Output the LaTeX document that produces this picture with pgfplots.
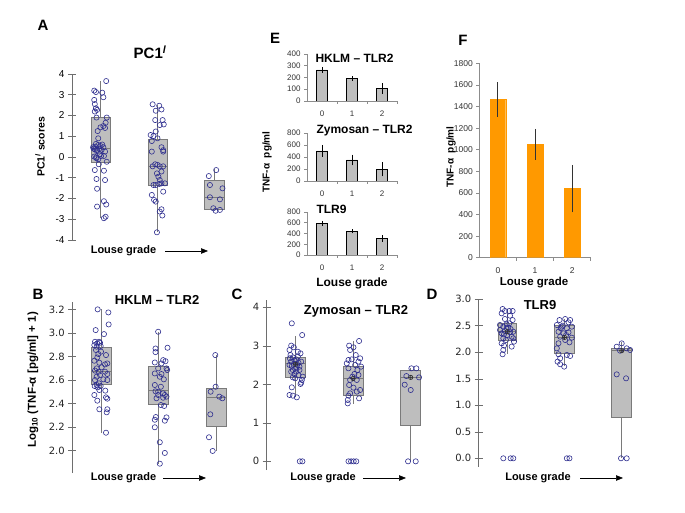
\documentclass[border=0pt]{standalone}
\usepackage{fontspec}
\setmainfont{Liberation Sans}
\newfontfamily\dejavu{DejaVu Sans}
\usepackage{pgfplots}
\pgfplotsset{compat=1.18}
\usepgfplotslibrary{statistics}
\usetikzlibrary{arrows.meta}

\definecolor{ptblue}{HTML}{2E2E8F}
\definecolor{boxgray}{HTML}{BEBEBE}
\definecolor{boxedge}{HTML}{7A7A7A}
\definecolor{axgray}{HTML}{6E6E6E}
\definecolor{xlgray}{HTML}{8C8C8C}
\definecolor{orng}{HTML}{FF9900}

\pgfplotsset{
  /pgf/number format/assume math mode=true,
  /pgf/number format/1000 sep={},
  boxpanel/.style={
    scale only axis, anchor=south west,
    axis x line=none, axis y line=left,
    axis line style={-, draw=axgray, line width=0.6pt},
    xmin=-0.5, xmax=2.5, enlargelimits=false, clip=false,
    tick align=center, major tick length=8pt,
    ytick style={draw=axgray, line width=0.6pt},
    yticklabel style={font=\dejavu\fontsize{10}{12}\selectfont, text=black!85},
    boxplot/draw direction=y,
  },
  bx/.style={fill=boxgray, draw=boxedge, line width=0.6pt, solid},
  pts/.style={only marks, mark=o, mark size=2.6pt,
    mark options={draw=ptblue, line width=0.6pt}},
  meanmk/.style={only marks, mark=oplus, mark size=2.2pt,
    mark options={draw=black!80, line width=0.6pt}},
  barpanel/.style={
    scale only axis, anchor=south west,
    axis x line=bottom, axis y line=left,
    axis line style={-, draw=xlgray, line width=0.6pt},
    xmin=-0.5, xmax=2.5, ymin=0, enlargelimits=false,
    xtick={0,1,2}, minor xtick={0.5,1.5,2.5},
    major x tick style={draw=none},
    minor x tick style={draw=xlgray, line width=0.6pt},
    ytick style={draw=xlgray, line width=0.6pt},
    tick align=outside, major tick length=3pt, minor tick length=3pt,
    ticklabel style={font=\fontsize{8}{9}\selectfont, text=black!80},
    xticklabel style={yshift=-3pt},
    ybar, bar width=11pt,
    error bars/error bar style={black, line width=0.7pt},
  },
}

\newcommand\louse[4]{%
  \node[font=\bfseries\fontsize{#4}{12}\selectfont] at (#1pt,#3pt) {Louse grade};
  \draw[line width=0.6pt,-{Triangle[length=7pt,width=5.5pt]}] (#2pt,#3pt) -- ++(43pt,0);}

\begin{document}
\begin{tikzpicture}
\useasboundingbox (0,0) rectangle (685pt,513pt);

% ---------- A ----------
\node[font=\bfseries\fontsize{15}{17}\selectfont] at (43pt,488pt) {A};
\node[font=\bfseries\fontsize{15}{17}\selectfont] at (150pt,461pt) {PC1\textsuperscript{\itshape l}};
\node[font=\bfseries\fontsize{10.5}{12}\selectfont, rotate=90] at (40pt,366pt) {PC1\textsuperscript{\itshape l} scores};
\louse{123.5}{165}{262}{11}
\begin{axis}[boxpanel, at={(72pt,273pt)}, width=171pt, height=166pt,
  ymin=-4, ymax=4, ytick={-4,...,4}, yticklabels={-4,-3,-2,-1,0,1,2,3,4},
  yticklabel style={font=\fontsize{10}{12}\selectfont, text=black}]
\addplot[bx, boxplot prepared={lower whisker=-2.95, lower quartile=-0.25, median=0.4,
  upper quartile=1.9, upper whisker=3.65, draw position=0, box extend=0.34, whisker extend=0}] coordinates {};
\addplot[bx, boxplot prepared={lower whisker=-3.6, lower quartile=-1.35, median=-0.45,
  upper quartile=0.85, upper whisker=2.5, draw position=1, box extend=0.34, whisker extend=0}] coordinates {};
\addplot[bx, boxplot prepared={lower whisker=-2.5, lower quartile=-2.5, median=-1.94,
  upper quartile=-1.11, upper whisker=-0.6, draw position=2, box extend=0.36, whisker extend=0}] coordinates {};
\addplot[pts] coordinates {
 (0.10,3.66) (-0.11,3.20) (-0.08,3.13) (0.03,3.10) (0.05,2.88) (-0.11,2.75) (-0.10,2.55)
 (-0.08,2.35) (-0.06,2.27) (-0.10,2.19) (-0.07,1.90) (0.11,1.90) (0.09,1.65) (0.05,1.49)
 (0.00,1.43) (0.08,1.40) (-0.05,1.25) (-0.04,0.90) (-0.08,0.63) (-0.04,0.58) (0.00,0.53)
 (-0.13,0.47) (0.05,0.47) (-0.10,0.37) (-0.07,0.34) (-0.02,0.40) (0.02,0.34) (0.08,0.26)
 (-0.01,0.14) (-0.08,-0.02) (-0.07,-0.06) (-0.04,-0.11) (0.06,0.05) (0.11,-0.23)
 (-0.12,0.40) (-0.09,0.50) (0.03,0.60) (-0.11,0.02) (-0.06,0.28) (0.01,0.05) (-0.03,-0.35)
 (-0.10,-0.63) (0.06,-0.66) (-0.07,-1.06) (0.08,-1.11) (-0.06,-1.53) (-0.06,-2.39)
 (0.06,-2.13) (0.10,-2.29) (0.06,-2.95) (0.09,-2.88)
 (0.915,2.54) (1.03,2.47) (0.97,2.23) (1.07,2.29) (0.96,1.78) (1.09,1.78) (1.11,1.57)
 (1.04,1.54) (0.97,1.23) (0.88,1.06) (0.93,1.01) (1.00,0.90) (0.90,0.77) (0.90,0.26)
 (1.10,0.33) (1.10,0.26) (1.07,0.47) (0.96,-0.35) (1.00,-0.38) (1.04,-0.45) (0.915,-0.45)
 (1.10,-0.45) (1.07,-0.70) (0.99,-0.79) (1.015,-0.95) (1.04,-1.11) (0.93,-1.35)
 (0.97,-1.35) (1.03,-1.30) (1.07,-1.27) (1.13,-1.27) (1.10,-1.67) (0.90,-1.83)
 (0.94,-2.07) (0.97,-2.15) (1.07,-2.52) (1.04,-2.63) (1.085,-2.82) (0.99,-3.63)
 (2.03,-0.63) (1.90,-0.92) (1.92,-1.35) (2.14,-1.51) (1.92,-1.94) (2.095,-2.04)
 (1.98,-2.47) (2.02,-2.59) (2.095,-2.55)};
\end{axis}

% ---------- B ----------
\node[font=\bfseries\fontsize{15}{17}\selectfont] at (38pt,219pt) {B};
\node[font=\bfseries\fontsize{13}{15}\selectfont] at (157pt,213pt) {HKLM -- TLR2};
\node[font=\bfseries\fontsize{11.5}{13}\selectfont, rotate=90] at (33pt,133pt) {Log\textsubscript{10} (TNF-α [pg/ml] + 1)};
\louse{123.5}{163}{35}{11}
\begin{axis}[boxpanel, at={(72.25pt,39.9pt)}, width=172.5pt, height=170.8pt,
  ymin=1.81, ymax=3.26, ytick={2.0,2.2,...,3.21},
  yticklabels={2.0,2.2,2.4,2.6,2.8,3.0,3.2}]
\addplot[bx, boxplot prepared={lower whisker=2.15, lower quartile=2.56, median=2.67,
  upper quartile=2.88, upper whisker=3.2, draw position=0, box extend=0.35, whisker extend=0}] coordinates {};
\addplot[bx, boxplot prepared={lower whisker=1.89, lower quartile=2.39, median=2.51,
  upper quartile=2.72, upper whisker=3.01, draw position=1, box extend=0.35, whisker extend=0}] coordinates {};
\addplot[bx, boxplot prepared={lower whisker=2.0, lower quartile=2.21, median=2.45,
  upper quartile=2.53, upper whisker=2.81, draw position=2, box extend=0.35, whisker extend=0}] coordinates {};
\addplot[pts] coordinates {
 (-0.058,3.200) (0.128,3.174) (0.133,3.072) (-0.093,3.024) (0.052,2.990) (-0.104,2.925)
 (-0.035,2.925) (-0.064,2.911) (-0.017,2.917) (-0.116,2.897) (-0.075,2.883) (-0.006,2.889)
 (-0.087,2.855) (0.000,2.841) (-0.046,2.821) (0.087,2.812) (-0.064,2.792) (-0.116,2.764)
 (-0.029,2.747) (0.070,2.733) (0.110,2.741) (-0.075,2.699) (0.012,2.708) (-0.104,2.680)
 (-0.041,2.671) (0.070,2.671) (-0.017,2.642) (0.110,2.651) (-0.075,2.628) (-0.104,2.600)
 (0.041,2.606) (-0.035,2.572) (0.110,2.600) (-0.075,2.558) (-0.006,2.549) (-0.110,2.549)
 (-0.058,2.538) (-0.029,2.515) (0.075,2.510) (-0.116,2.473) (0.087,2.453) (0.110,2.442)
 (-0.064,2.425) (0.099,2.326) (0.110,2.352) (-0.029,2.352) (0.087,2.153)
 (0.994,3.010) (0.948,2.868) (1.157,2.874) (0.948,2.837) (0.936,2.749) (1.081,2.769)
 (1.122,2.760) (1.052,2.741) (0.994,2.699) (1.139,2.699) (0.936,2.656) (1.052,2.651)
 (1.151,2.685) (1.023,2.628) (1.093,2.606) (0.936,2.558) (1.041,2.543) (0.994,2.501)
 (1.081,2.487) (0.948,2.504) (1.110,2.473) (0.994,2.473) (1.081,2.450) (1.139,2.459)
 (0.965,2.445) (1.041,2.388) (1.099,2.380) (0.954,2.286) (0.936,2.263) (1.139,2.283)
 (1.110,2.255) (0.936,2.199) (1.023,2.072) (1.110,1.981) (1.023,1.890)
 (1.988,2.812) (1.994,2.543) (1.907,2.501) (2.058,2.459) (2.110,2.445) (1.901,2.309)
 (1.878,2.114) (1.942,1.998)};
\end{axis}

% ---------- C ----------
\node[font=\bfseries\fontsize{15}{17}\selectfont] at (237pt,219pt) {C};
\node[font=\bfseries\fontsize{13}{15}\selectfont] at (356pt,202pt) {Zymosan -- TLR2};
\louse{323}{363}{35}{11}
\begin{axis}[boxpanel, at={(266.7pt,42.8pt)}, width=172.8pt, height=170.2pt,
  ymin=-0.23, ymax=4.19, ytick={0,1,2,3,4}, yticklabels={0,1,2,3,4}]
\addplot[bx, boxplot prepared={lower whisker=1.66, lower quartile=2.19, median=2.55,
  upper quartile=2.70, upper whisker=3.26, draw position=0, box extend=0.35, whisker extend=0}] coordinates {};
\addplot[bx, boxplot prepared={lower whisker=1.50, lower quartile=1.72, median=2.16,
  upper quartile=2.47, upper whisker=3.12, draw position=1, box extend=0.35, whisker extend=0}] coordinates {};
\addplot[bx, boxplot prepared={lower whisker=0, lower quartile=0.93, median=2.19,
  upper quartile=2.37, upper whisker=2.42, draw position=2, box extend=0.35, whisker extend=0}] coordinates {};
\addplot[pts] coordinates {
 (-0.064,3.584) (0.116,3.280) (-0.075,3.005) (-0.029,2.961) (-0.104,2.892) (0.041,2.847)
 (0.087,2.804) (-0.087,2.761) (-0.046,2.701) (0.012,2.649) (-0.075,2.589) (-0.017,2.615)
 (0.052,2.562) (0.098,2.589) (-0.029,2.528) (0.029,2.502) (-0.064,2.476) (0.012,2.416)
 (0.069,2.372) (-0.075,2.329) (-0.017,2.269) (0.052,2.234) (-0.046,2.182) (0.110,2.113)
 (0.098,2.044) (0.087,2.009) (-0.006,2.156) (-0.064,1.922) (-0.104,1.723) (-0.046,1.706)
 (0.023,1.662) (-0.098,2.675) (0.041,2.718) (0.069,2.459) (-0.046,2.372) (-0.104,2.502)
 (0.127,2.199) (0.012,2.329) (0.075,0) (0.120,0)
 (1.104,3.125) (0.931,3.005) (1.006,2.961) (0.948,2.892) (1.046,2.761) (1.122,2.675)
 (0.919,2.632) (0.977,2.649) (1.093,2.589) (0.890,2.545) (1.035,2.502) (0.919,2.416)
 (1.139,2.459) (1.075,2.372) (1.023,2.269) (0.988,2.199) (1.093,2.243) (0.948,2.113)
 (1.064,2.113) (0.931,1.983) (1.006,1.914) (1.122,1.853) (1.064,1.810) (0.948,1.766)
 (0.919,1.706) (0.907,1.593) (1.104,1.636) (0.907,1.506)
 (0.920,0) (0.965,0) (1.010,0) (1.055,0)
 (2.012,2.415) (2.098,2.415) (1.925,2.215) (2.145,2.180) (1.896,1.990) (2.000,1.853)
 (1.954,0) (2.087,0)};
\addplot[meanmk] coordinates {(0,2.52) (1,2.15) (2,2.18)};
\end{axis}

% ---------- D ----------
\node[font=\bfseries\fontsize{15}{17}\selectfont] at (432pt,219pt) {D};
\node[font=\bfseries\fontsize{13}{15}\selectfont] at (540pt,208pt) {TLR9};
\louse{538}{580}{35}{11}
\begin{axis}[boxpanel, at={(478.7pt,46.2pt)}, width=171.6pt, height=167.5pt,
  ymin=-0.16, ymax=3.0, ytick={0,0.5,...,3.01},
  yticklabels={0.0,0.5,1.0,1.5,2.0,2.5,3.0}]
\addplot[bx, boxplot prepared={lower whisker=1.97, lower quartile=2.23, median=2.39,
  upper quartile=2.55, upper whisker=2.81, draw position=0, box extend=0.33, whisker extend=0}] coordinates {};
\addplot[bx, boxplot prepared={lower whisker=1.74, lower quartile=1.99, median=2.28,
  upper quartile=2.50, upper whisker=2.62, draw position=1, box extend=0.35, whisker extend=0}] coordinates {};
\addplot[bx, boxplot prepared={lower whisker=0, lower quartile=0.77, median=2.03,
  upper quartile=2.08, upper whisker=2.2, draw position=2, box extend=0.35, whisker extend=0}] coordinates {};
\addplot[pts] coordinates {
 (-0.082,2.817) (-0.041,2.779) (0.035,2.779) (0.093,2.779) (-0.099,2.735) (0.047,2.691)
 (-0.041,2.628) (0.093,2.609) (-0.128,2.515) (-0.012,2.528) (-0.070,2.484) (0.017,2.465)
 (0.058,2.440) (-0.041,2.402) (0.105,2.389) (-0.099,2.358) (0.000,2.326) (0.076,2.295)
 (-0.070,2.264) (-0.023,2.232) (0.105,2.264) (-0.099,2.170) (-0.058,2.126) (0.076,2.107)
 (-0.070,2.044) (-0.082,1.963) (-0.012,2.453) (0.047,2.377) (-0.058,2.339) (0.035,2.547)
 (-0.128,2.421) (0.117,2.201) (-0.070,0) (0.058,0) (0.105,0)
 (0.913,2.609) (1.012,2.628) (1.099,2.609) (1.070,2.565) (0.866,2.515) (0.953,2.484)
 (1.041,2.453) (1.128,2.484) (0.895,2.389) (0.983,2.358) (1.070,2.377) (0.924,2.295)
 (1.128,2.276) (1.012,2.232) (1.087,2.188) (0.895,2.170) (0.866,2.075) (0.895,1.963)
 (1.041,1.950) (1.099,1.931) (0.924,1.887) (0.878,1.824) (0.924,1.774) (0.994,1.730)
 (0.971,2.503) (1.029,2.326) (0.936,2.453) (1.041,0) (1.087,0)
 (1.913,2.106) (2.000,2.169) (2.087,2.075) (2.146,2.044) (1.971,2.031) (1.913,1.584)
 (2.076,1.509) (1.988,0) (2.087,0)};
\addplot[meanmk] coordinates {(0,2.39) (1,2.28) (2,2.03)};
\end{axis}

% ---------- E ----------
\node[font=\bfseries\fontsize{15}{17}\selectfont] at (275pt,475pt) {E};
\node[font=\bfseries\fontsize{10}{12}\selectfont, rotate=90] at (267pt,351pt) {TNF-α\ \ pg/ml};
\node[font=\bfseries\fontsize{12}{14}\selectfont] at (352pt,230pt) {Louse grade};
\begin{axis}[barpanel, at={(307pt,412pt)}, width=90pt, height=47pt,
  ymax=400, ytick={0,100,...,400}]
\addplot[fill=boxgray, draw=black, line width=0.5pt,
  error bars/.cd, y dir=both, y explicit, error mark=none]
  coordinates {(0,265) +- (0,25) (1,190) +- (0,20) (2,105) +- (0,45)};
\end{axis}
\node[font=\bfseries\fontsize{12}{14}\selectfont, anchor=west] at (312pt,455pt) {HKLM -- TLR2};
\begin{axis}[barpanel, at={(307pt,332pt)}, width=90pt, height=48pt,
  ymax=800, ytick={0,200,...,800}]
\addplot[fill=boxgray, draw=black, line width=0.5pt,
  error bars/.cd, y dir=both, y explicit, error mark=none]
  coordinates {(0,500) +- (0,100) (1,350) +- (0,90) (2,195) +- (0,120)};
\end{axis}
\node[font=\bfseries\fontsize{12}{14}\selectfont, anchor=west] at (313pt,382pt) {Zymosan -- TLR2};
\begin{axis}[barpanel, at={(307pt,258pt)}, width=90pt, height=43pt,
  ymax=800, ytick={0,200,...,800}]
\addplot[fill=boxgray, draw=black, line width=0.5pt,
  error bars/.cd, y dir=both, y explicit, error mark=none]
  coordinates {(0,585) +- (0,50) (1,440) +- (0,40) (2,310) +- (0,60)};
\end{axis}
\node[font=\bfseries\fontsize{12}{14}\selectfont, anchor=west] at (313pt,304pt) {TLR9};

% ---------- F ----------
\node[font=\bfseries\fontsize{15}{17}\selectfont] at (463pt,473pt) {F};
\node[font=\bfseries\fontsize{10}{12}\selectfont, rotate=90] at (451pt,356pt) {TNF-α\ \ pg/ml};
\node[font=\bfseries\fontsize{11.5}{14}\selectfont] at (534pt,230pt) {Louse grade};
\begin{axis}[barpanel, at={(479.3pt,255.3pt)}, width=111.4pt, height=194.4pt,
  ymax=1800, ytick={0,200,...,1800}, bar width=15.7pt,
  ticklabel style={font=\fontsize{8.5}{10}\selectfont},
  error bars/error bar style={black!80, line width=0.8pt}]
\addplot[fill=orng, draw=orng, line width=0.3pt,
  error bars/.cd, y dir=both, y explicit, error mark=none]
  coordinates {(0,1465) +- (0,158) (1,1050) +- (0,143) (2,640) +- (0,220)};
\end{axis}
\end{tikzpicture}
\end{document}
